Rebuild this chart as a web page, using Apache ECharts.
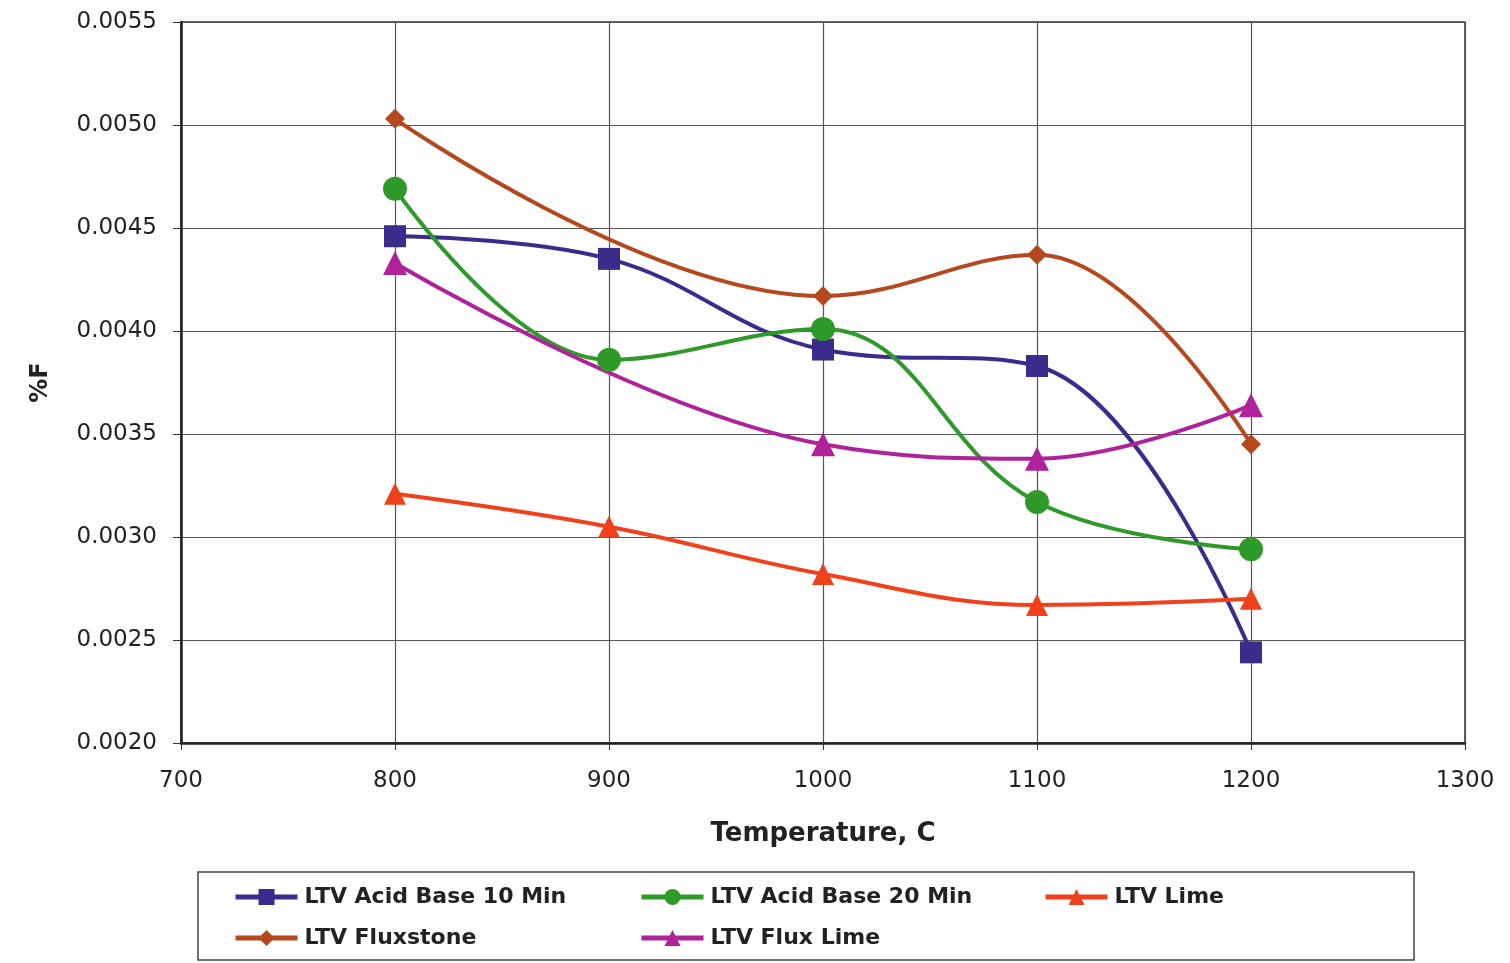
<!DOCTYPE html>
<html>
<head>
<meta charset="utf-8">
<script src="https://cdn.jsdelivr.net/npm/echarts@6/dist/echarts.min.js"></script>
<style>html,body{margin:0;padding:0;background:#fff;}#c{width:1510px;height:963px;}</style>
</head>
<body>
<div id="c"></div>
<script>
const temps = [800, 900, 1000, 1100, 1200];
const acidBase10 = [0.00446, 0.00435, 0.00391, 0.00383, 0.00244];
const acidBase20 = [0.00469, 0.00386, 0.00401, 0.00317, 0.00294];
const lime = [0.00321, 0.00305, 0.00282, 0.00267, 0.00270];
const fluxstone = [0.00503, null, 0.00417, 0.00437, 0.00345];
const fluxLime = [0.00433, null, 0.00345, 0.00338, 0.00364];
const seriesNames = ['LTV Acid Base 10 Min', 'LTV Acid Base 20 Min', 'LTV Lime', 'LTV Fluxstone', 'LTV Flux Lime'];

const font = '"DejaVu Sans", "Liberation Sans", Arial, sans-serif';
function pts(vals){ return temps.map((t,i)=>[t, vals[i]]).filter(p=>p[1]!==null); }
function mk(name, vals, color, symbol, size){
  return {
    name, type:'line', data: pts(vals), smooth:0.4,
    symbol, symbolSize:size,
    lineStyle:{color, width:4},
    itemStyle:{color},
    z: 3
  };
}
const chart = echarts.init(document.getElementById('c'));
const legendText = {fontFamily:font, fontWeight:'bold', fontSize:22, color:'#222', padding:[0,0,0,2]};
function lg(name, left, top){
  return {data:[name], left, top, itemWidth:62, itemHeight:20, itemGap:0, textStyle:legendText, selectedMode:false,
          lineStyle:{width:5}};
}
chart.setOption({
  animation:false,
  backgroundColor:'#fff',
  grid:{left:181, right:45, top:22, bottom:220, show:true, borderColor:'#333', borderWidth:1.5},
  xAxis:{
    type:'value', min:700, max:1300, interval:100,
    name:'Temperature, C', nameLocation:'middle', nameGap:78,
    nameTextStyle:{fontFamily:font, fontWeight:'bold', fontSize:26, color:'#222'},
    axisLine:{lineStyle:{color:'#222', width:2.5}},
    axisTick:{show:true, length:7, lineStyle:{color:'#333'}},
    axisLabel:{fontFamily:font, fontSize:23, color:'#222', margin:27, formatter:v=>String(v)},
    splitLine:{show:true, lineStyle:{color:'#555', width:1.2}}
  },
  yAxis:{
    type:'value', min:0.002, max:0.0055, interval:0.0005,
    name:'%F', nameLocation:'middle', nameGap:128, nameRotate:90,
    nameTextStyle:{fontFamily:font, fontWeight:'bold', fontSize:24, color:'#222'},
    axisLine:{show:true, lineStyle:{color:'#222', width:2.5}},
    axisTick:{show:true, length:8, lineStyle:{color:'#333'}},
    axisLabel:{fontFamily:font, fontSize:23, color:'#222', margin:24, formatter:v=>v.toFixed(4)},
    splitLine:{show:true, lineStyle:{color:'#555', width:1.2}}
  },
  legend:[
    lg(seriesNames[0], 228, 881),
    lg(seriesNames[1], 634, 881),
    lg(seriesNames[2], 1038, 881),
    lg(seriesNames[3], 228, 922),
    lg(seriesNames[4], 634, 922)
  ],
  graphic:[{type:'rect', shape:{x:198, y:872, width:1216, height:88}, style:{fill:'none', stroke:'#444', lineWidth:1.5}}],
  series:[
    mk(seriesNames[0], acidBase10, '#3b2b8c', 'rect', 22),
    mk(seriesNames[1], acidBase20, '#2f9a2a', 'circle', 24),
    mk(seriesNames[2], lime, '#f0401c', 'triangle', 22),
    mk(seriesNames[3], fluxstone, '#b5481e', 'diamond', 20),
    mk(seriesNames[4], fluxLime, '#b0229a', 'triangle', 24)
  ]
});
</script>
</body>
</html>
